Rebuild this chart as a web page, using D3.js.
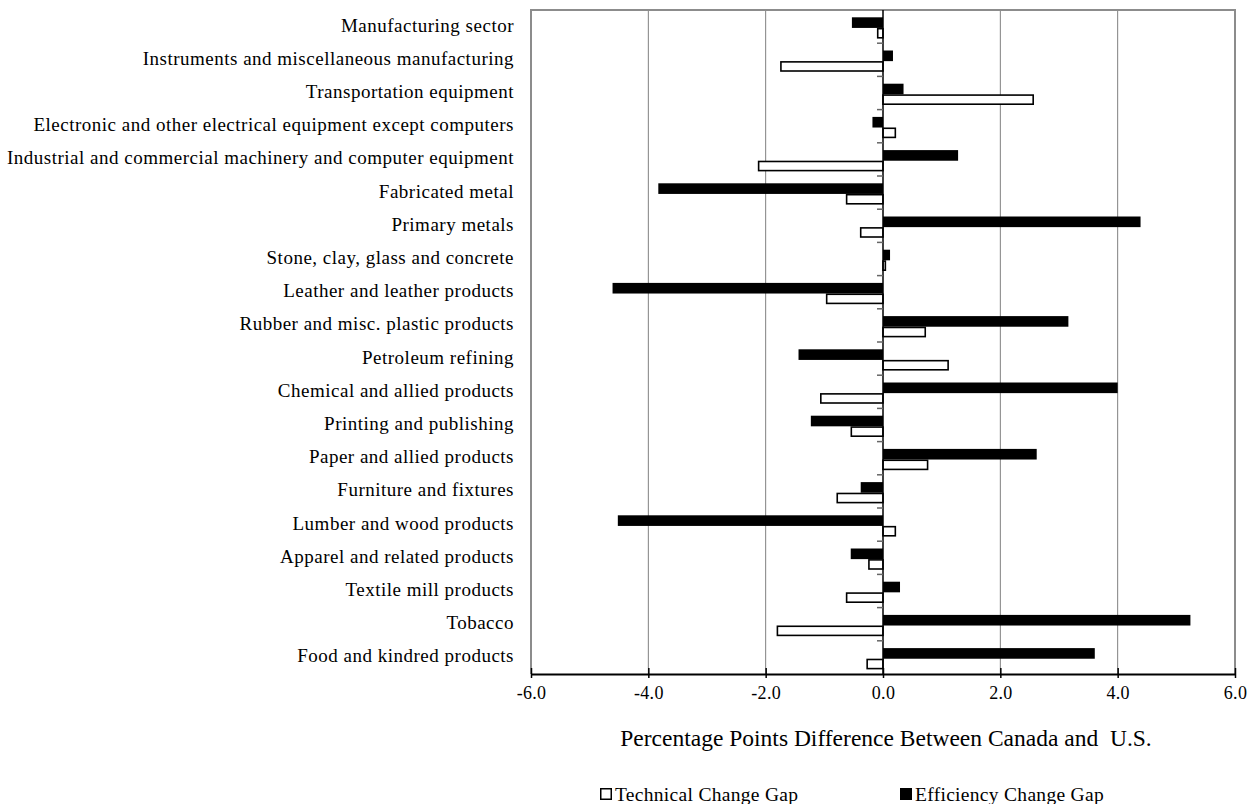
<!DOCTYPE html>
<html>
<head>
<meta charset="utf-8">
<script src="https://cdn.jsdelivr.net/npm/d3@7"></script>
<style>
  html, body { margin: 0; padding: 0; background: #fff; }
  svg { display: block; font-family: "Liberation Serif", "Times New Roman", serif; }
  svg text { white-space: pre; }
</style>
</head>
<body>
<svg id="chart" width="1256" height="804"></svg>
<script>
// Industries, listed top to bottom
const categories = [
  "Manufacturing sector",
  "Instruments and miscellaneous manufacturing",
  "Transportation equipment",
  "Electronic and other electrical equipment except computers",
  "Industrial and commercial machinery and computer equipment",
  "Fabricated metal",
  "Primary metals",
  "Stone, clay, glass and concrete",
  "Leather and leather products",
  "Rubber and misc. plastic products",
  "Petroleum refining",
  "Chemical and allied products",
  "Printing and publishing",
  "Paper and allied products",
  "Furniture and fixtures",
  "Lumber and wood products",
  "Apparel and related products",
  "Textile mill products",
  "Tobacco",
  "Food and kindred products"
];

// Percentage-point gaps, Canada minus U.S.
const technicalGap = [-0.09, -1.74, 2.56, 0.21, -2.12, -0.62, -0.38, 0.04, -0.96, 0.72,
                       1.11, -1.06, -0.54, 0.76, -0.78, 0.21, -0.24, -0.62, -1.80, -0.27];
const efficiencyGap = [-0.53, 0.17, 0.35, -0.18, 1.28, -3.83, 4.39, 0.12, -4.61, 3.16,
                       -1.44, 4.00, -1.23, 2.62, -0.38, -4.52, -0.55, 0.29, 5.24, 3.61];

const xTicks = [-6, -4, -2, 0, 2, 4, 6];
const seriesNames = ["Technical Change Gap", "Efficiency Change Gap"];
const axisTitle = "Percentage Points Difference Between Canada and  U.S.";

const svg = d3.select("#chart");
const plotLeft = 531, plotRight = 1235, plotTop = 10, plotBottom = 674;

const x = d3.scaleLinear().domain([-6, 6]).range([plotLeft, plotRight]);
const y = d3.scaleBand().domain(categories).range([plotTop, plotBottom]);
const bw = y.bandwidth();
const inner = d3.scaleBand().domain(["efficiency", "technical"])
  .range([bw * 0.22, bw * 0.86]);

// vertical gridlines
svg.append("g").selectAll("line")
  .data(xTicks.filter(t => t !== 0 && t !== 6 && t !== -6))
  .join("line")
  .attr("x1", d => x(d)).attr("x2", d => x(d))
  .attr("y1", plotTop).attr("y2", plotBottom)
  .attr("stroke", "#808080").attr("stroke-width", 1);

// plot frame (left, top, right)
svg.append("path")
  .attr("d", `M${plotLeft},${plotBottom}V${plotTop}H${plotRight}V${plotBottom}`)
  .attr("fill", "none").attr("stroke", "#8c8c8c").attr("stroke-width", 2);

const rows = categories.map((c, i) => ({ c, tech: technicalGap[i], eff: efficiencyGap[i] }));

// efficiency bars (solid)
svg.append("g").selectAll("rect")
  .data(rows).join("rect")
  .attr("x", d => x(Math.min(0, d.eff)))
  .attr("width", d => Math.abs(x(d.eff) - x(0)))
  .attr("y", d => y(d.c) + inner("efficiency"))
  .attr("height", inner.bandwidth())
  .attr("fill", "#000");

// technical bars (outlined)
svg.append("g").selectAll("rect")
  .data(rows).join("rect")
  .attr("x", d => x(Math.min(0, d.tech)))
  .attr("width", d => Math.abs(x(d.tech) - x(0)))
  .attr("y", d => y(d.c) + inner("technical") + 0.75)
  .attr("height", inner.bandwidth() - 1.5)
  .attr("fill", "#fff").attr("stroke", "#000").attr("stroke-width", 1.6);

// category axis at zero
const yAxis = svg.append("g");
yAxis.append("line")
  .attr("x1", x(0)).attr("x2", x(0)).attr("y1", plotTop).attr("y2", plotBottom)
  .attr("stroke", "#000").attr("stroke-width", 1.5);
yAxis.selectAll("line.tick")
  .data(d3.range(1, categories.length))
  .join("line").attr("class", "tick")
  .attr("x1", x(0) - 6).attr("x2", x(0))
  .attr("y1", i => plotTop + i * bw).attr("y2", i => plotTop + i * bw)
  .attr("stroke", "#666").attr("stroke-width", 1.5);

// category labels
svg.append("g").selectAll("text")
  .data(categories).join("text")
  .attr("x", 514)
  .attr("y", d => y(d) + bw / 2 - 1.5)
  .attr("text-anchor", "end")
  .attr("dominant-baseline", "central")
  .attr("font-size", 19)
  .attr("letter-spacing", 0.5)
  .attr("fill", "#000")
  .text(d => d);

// value axis
const xAxis = svg.append("g").attr("transform", `translate(0,${plotBottom})`)
  .call(d3.axisBottom(x).tickValues(xTicks).tickFormat(d => d.toFixed(1)).tickSize(0));
xAxis.attr("font-family", null).attr("font-size", null);
xAxis.select(".domain").attr("stroke", "#000").attr("stroke-width", 2.2);
xAxis.selectAll(".tick line").remove();
xAxis.selectAll(".tick").append("line")
  .attr("y1", -6).attr("y2", 4).attr("stroke", "#000").attr("stroke-width", 1.5);
xAxis.selectAll("text")
  .attr("y", 25).attr("dy", null)
  .style("font-family", "'Liberation Serif', serif")
  .style("font-size", "18px")
  .attr("letter-spacing", 0.3).attr("fill", "#000");

svg.append("text")
  .attr("x", x(0) + 3).attr("y", 746)
  .attr("text-anchor", "middle")
  .attr("font-size", 23.5)
  .attr("fill", "#000")
  .text(axisTitle);

// legend
const legend = svg.append("g");
const legendX = [600, 900];
const legendFill = ["#fff", "#000"];
seriesNames.forEach((name, i) => {
  legend.append("rect")
    .attr("x", legendX[i] + 0.75).attr("y", 788.75)
    .attr("width", 10.5).attr("height", 10.5)
    .attr("fill", legendFill[i]).attr("stroke", "#000").attr("stroke-width", 1.5);
  legend.append("text")
    .attr("x", legendX[i] + 15).attr("y", 800.5)
    .attr("font-size", 19.5).attr("letter-spacing", 0.3).attr("fill", "#000")
    .text(name);
});
</script>
</body>
</html>
